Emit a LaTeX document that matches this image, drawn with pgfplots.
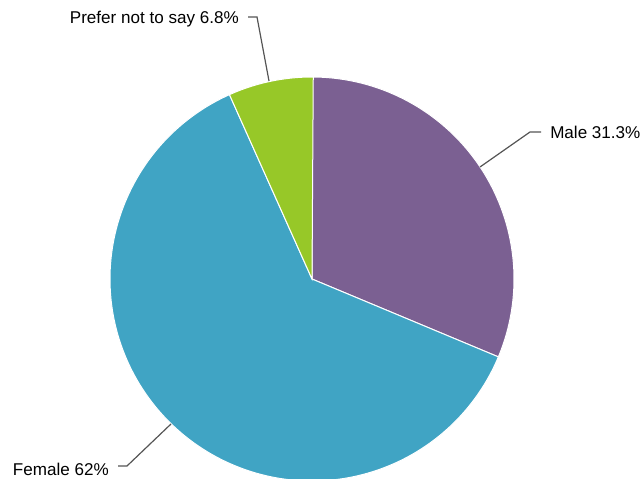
\documentclass[border=0pt]{standalone}
\usepackage{pgfplots}
\pgfplotsset{compat=1.18}
\usepackage{fontspec}
\setmainfont{Liberation Sans}
\definecolor{cmale}{RGB}{123,96,146}
\definecolor{cfemale}{RGB}{64,164,196}
\definecolor{cother}{RGB}{151,200,40}
\definecolor{cline}{RGB}{85,85,85}
\begin{document}
\begin{tikzpicture}
\begin{axis}[
  x=0.75pt, y=0.75pt,
  xmin=0, xmax=644, ymin=0, ymax=479,
  hide axis, clip=true,
]
\path (axis cs:0,0) rectangle (axis cs:644,479);
% values (percent): Male 31.3, Female 62, Prefer not to say 6.8
\addplot[fill=cmale, draw=white, line width=0.75pt, domain={90-3.6*31.3}:90, samples=120, variable=\t]
  ({312+202*cos(t)},{200+202*sin(t)}) -- (axis cs:312,200) -- cycle;
\addplot[fill=cfemale, draw=white, line width=0.75pt, domain={90-3.6*(31.3+62)}:{90-3.6*31.3}, samples=200, variable=\t]
  ({312+202*cos(t)},{200+202*sin(t)}) -- (axis cs:312,200) -- cycle;
\addplot[fill=cother, draw=white, line width=0.75pt, domain={90-3.6*(31.3+62+6.8)}:{90-3.6*(31.3+62)}, samples=40, variable=\t]
  ({312+202*cos(t)},{200+202*sin(t)}) -- (axis cs:312,200) -- cycle;
% leader lines
\addplot[cline, line width=0.9pt, no marks] coordinates {(480,312) (530,347) (541,347)};
\addplot[cline, line width=0.9pt, no marks] coordinates {(171,55) (127,13) (118,13)};
\addplot[cline, line width=0.9pt, no marks] coordinates {(248,462) (257,462) (269,398)};
\node[anchor=west, inner sep=0pt, font=\fontsize{12.8}{15}\selectfont] at (axis cs:550,347) {Male 31.3\%};
\node[anchor=east, inner sep=0pt, font=\fontsize{12.8}{15}\selectfont] at (axis cs:109,10) {Female 62\%};
\node[anchor=east, inner sep=0pt, font=\fontsize{12.8}{15}\selectfont] at (axis cs:239,460) {Prefer not to say 6.8\%};
\end{axis}
\end{tikzpicture}
\end{document}
